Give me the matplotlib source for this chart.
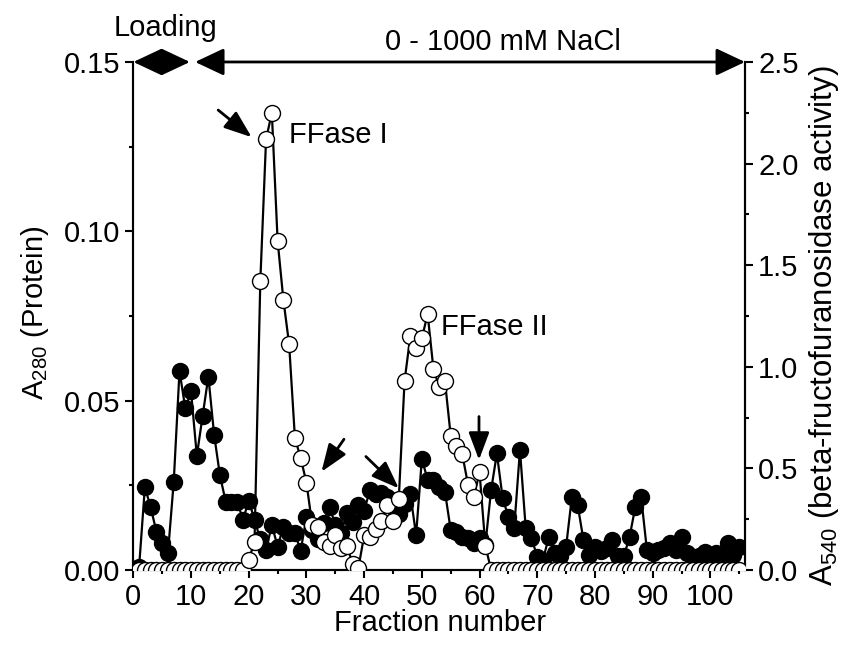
import matplotlib
matplotlib.use('Agg')
import matplotlib.pyplot as plt
import numpy as np

plt.rcParams['font.family'] = ['Liberation Sans', 'DejaVu Sans']
plt.rcParams['mathtext.default'] = 'regular'
plt.rcParams['font.size'] = 21

# fraction numbers
fractions = list(range(1, 106))

# A280 (protein), filled circles, left axis
protein = [
    0.0010, 0.0245, 0.0185, 0.0113, 0.0079, 0.0050, 0.0261, 0.0588, 0.0477, 0.0527,
    0.0337, 0.0455, 0.0571, 0.0399, 0.0280, 0.0202, 0.0202, 0.0202, 0.0148, 0.0205,
    0.0148, 0.0090, 0.0059, 0.0133, 0.0069, 0.0128, 0.0108, 0.0108, 0.0057, 0.0157,
    0.0118, 0.0090, 0.0140, 0.0187, 0.0133, 0.0110, 0.0167, 0.0143, 0.0192, 0.0175,
    0.0236, 0.0225, 0.0226, 0.0216, 0.0185, 0.0165, 0.0195, 0.0224, 0.0103, 0.0328,
    0.0266, 0.0266, 0.0246, 0.0231, 0.0118, 0.0113, 0.0098, 0.0094, 0.0080, 0.0094,
    0.0074, 0.0236, 0.0344, 0.0212, 0.0157, 0.0123, 0.0354, 0.0123, 0.0094, 0.0039,
    0.0030, 0.0098, 0.0050, 0.0040, 0.0069, 0.0216, 0.0192, 0.0089, 0.0044, 0.0069,
    0.0055, 0.0064, 0.0089, 0.0040, 0.0040, 0.0098, 0.0187, 0.0216, 0.0059, 0.0050,
    0.0059, 0.0065, 0.0079, 0.0060, 0.0098, 0.0049, 0.0035, 0.0040, 0.0054, 0.0040,
    0.0049, 0.0035, 0.0079, 0.0045, 0.0069,
]

# A540 (beta-fructofuranosidase activity), open circles, right axis
activity = (
    [0.0] * 19 +
    [0.05, 0.14, 1.42, 2.12, 2.25, 1.62, 1.33, 1.11, 0.65, 0.55,
     0.43, 0.22, 0.21, 0.14, 0.12, 0.17, 0.11, 0.12, 0.03, 0.01,
     0.17, 0.16, 0.20, 0.24, 0.32, 0.24, 0.35, 0.93, 1.15, 1.09,
     1.14, 1.26, 0.99, 0.90, 0.93, 0.66, 0.61, 0.57, 0.42, 0.36,
     0.48, 0.12] +
    [0.0] * 44
)

fig = plt.figure(figsize=(8.44, 6.60), dpi=100)
ax = fig.add_axes([0.158, 0.1364, 0.7247, 0.7697])
ax2 = ax.twinx()

ax.plot(fractions, protein, '-', color='black', lw=1.6,
        marker='o', ms=11.5, mfc='black', mec='black', zorder=2)
ax2.plot(fractions, activity, '-', color='black', lw=1.6,
         marker='o', ms=11.5, mfc='white', mec='black', mew=1.0, zorder=3)

ax.set_xlim(0, 106)
ax.set_ylim(0, 0.15)
ax2.set_ylim(0, 2.5)

ax.set_xticks(np.arange(0, 101, 10))
ax.set_xticks(np.arange(0, 106, 5), minor=True)
ax.set_yticks([0.0, 0.05, 0.10, 0.15])
ax.set_yticks(np.arange(0, 0.151, 0.025), minor=True)
ax.set_yticklabels(['0.00', '0.05', '0.10', '0.15'])
ax2.set_yticks([0.0, 0.5, 1.0, 1.5, 2.0, 2.5])
ax2.set_yticks(np.arange(0, 2.51, 0.25), minor=True)

for a in (ax, ax2):
    a.spines['top'].set_visible(False)
    for s in a.spines.values():
        s.set_linewidth(1.5)
    a.tick_params(which='major', direction='out', length=6, width=1.5)
    a.tick_params(which='minor', direction='out', length=3, width=1.5)
ax.tick_params(axis='both', labelsize=21)
ax2.tick_params(axis='y', labelsize=21)

# gradient arrows at the top
top_kw = dict(arrowstyle='<|-|>,head_length=0.85,head_width=0.4',
              color='black', lw=2, shrinkA=0, shrinkB=0)
ax.annotate('', xy=(0, 0.15), xytext=(9.8, 0.15), arrowprops=top_kw,
            annotation_clip=False)
ax.annotate('', xy=(10.7, 0.15), xytext=(106, 0.15), arrowprops=top_kw,
            annotation_clip=False)
ax.text(5.5, 0.160, 'Loading', ha='center', va='center', clip_on=False)
ax.text(64, 0.1559, '0 - 1000 mM NaCl', ha='center', va='center', clip_on=False)

# peak labels and arrows
ax.text(27.0, 0.1284, 'FFase I', ha='left', va='center')
ax.text(53.3, 0.0718, 'FFase II', ha='left', va='center')
arrow_kw = dict(arrowstyle='-|>,head_length=0.8,head_width=0.3', color='black',
                lw=2, shrinkA=0, shrinkB=0)
ax.annotate('', xy=(20.5, 0.1278), xytext=(14.7, 0.1358), arrowprops=arrow_kw)
ax.annotate('', xy=(32.6, 0.0290), xytext=(36.5, 0.0386), arrowprops=arrow_kw)
ax.annotate('', xy=(46.0, 0.0241), xytext=(40.3, 0.0335), arrowprops=arrow_kw)
ax.annotate('', xy=(59.9, 0.0325), xytext=(59.9, 0.0453), arrowprops=arrow_kw)

fig.text(440 / 844, 1 - 623 / 660, 'Fraction number', ha='center', va='center')
fig.text(35 / 844, 1 - 313 / 660, 'A$_{280}$ (Protein)', ha='center', va='center',
         rotation=90)
fig.text(824 / 844, 1 - 326 / 660, 'A$_{540}$ (beta-fructofuranosidase activity)',
         ha='center', va='center', rotation=90, fontsize=22.5)

fig.savefig('out.png', dpi=100)
